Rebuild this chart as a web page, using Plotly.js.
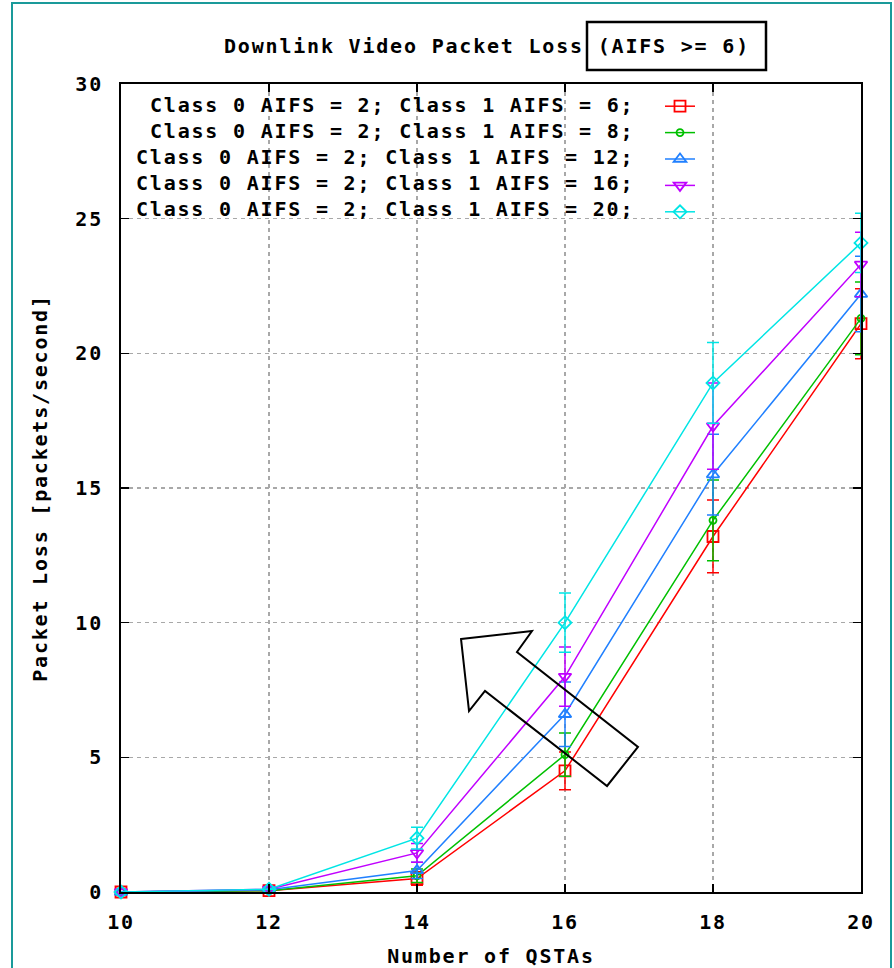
<!DOCTYPE html>
<html>
<head>
<meta charset="utf-8">
<script src="https://cdn.plot.ly/plotly-3.0.1.min.js"></script>
<style>
  html, body { margin: 0; padding: 0; background: #fff; }
  #chart { width: 894px; height: 968px; }
  svg text { letter-spacing: 1.8px; }
</style>
</head>
<body>
<div id="chart"></div>
<script>
// ---- data ----
const qstas = [10, 12, 14, 16, 18, 20];

const seriesNames = [
  "Class 0 AIFS = 2; Class 1 AIFS = 6;",
  "Class 0 AIFS = 2; Class 1 AIFS = 8;",
  "Class 0 AIFS = 2; Class 1 AIFS = 12;",
  "Class 0 AIFS = 2; Class 1 AIFS = 16;",
  "Class 0 AIFS = 2; Class 1 AIFS = 20;"
];

const lossAifs6  = [0, 0.05, 0.5, 4.5, 13.2, 21.1];
const lossAifs8  = [0, 0.05, 0.6, 5.1, 13.8, 21.3];
const lossAifs12 = [0, 0.08, 0.8, 6.6, 15.5, 22.2];
const lossAifs16 = [0, 0.1, 1.45, 8.0, 17.3, 23.3];
const lossAifs20 = [0, 0.1, 2.0, 10.0, 18.9, 24.1];

const errAifs6  = [0, 0, 0.25, 0.7, 1.35, 1.3];
const errAifs8  = [0, 0, 0.25, 0.8, 1.5, 1.35];
const errAifs12 = [0, 0, 0.3, 1.2, 1.5, 1.4];
const errAifs16 = [0, 0, 0.35, 1.1, 1.6, 1.2];
const errAifs20 = [0, 0, 0.4, 1.1, 1.5, 1.1];

const xTicks = [10, 12, 14, 16, 18, 20];
const yTicks = [0, 5, 10, 15, 20, 25, 30];

// ---- styles ----
const FONT = "DejaVu Sans Mono, Liberation Mono, monospace";
const colors = ["#ff0000", "#00c000", "#2080ff", "#c000ff", "#00e5e5"];
const symbols = ["square-open", "circle-open", "triangle-up-open", "triangle-down-open", "diamond-open"];
const msizes = [11, 7, 11, 11, 10];
const values = [lossAifs6, lossAifs8, lossAifs12, lossAifs16, lossAifs20];
const errors = [errAifs6, errAifs8, errAifs12, errAifs16, errAifs20];

const traces = values.map((v, i) => ({
  type: "scatter",
  mode: "lines+markers",
  x: qstas,
  y: v,
  name: "",
  hovertext: seriesNames[i],
  cliponaxis: false,
  line: { color: colors[i], width: 1.5 },
  marker: { symbol: symbols[i], size: msizes[i], color: colors[i], line: { color: colors[i], width: 1.8 } },
  error_y: { type: "data", array: errors[i], visible: true, color: colors[i], thickness: 1.5, width: 6 }
}));

// helpers: pixel -> paper (plot area 121..861 x, 84..892 y)
const PL = 121, PR = 861, PT = 84, PB = 892;
const px = p => (p - PL) / (PR - PL);
const py = p => (PB - p) / (PB - PT);

const legendRows = [105, 131, 157, 183, 209];
const annotations = seriesNames.map((s, i) => ({
  text: s,
  xref: "paper", yref: "paper",
  x: px(636), y: py(legendRows[i]),
  xanchor: "right", yanchor: "middle",
  showarrow: false,
  font: { family: FONT, size: 20, color: "#000", weight: "bold" }
}));

const arrowPts = [[461, 639], [532, 631], [517, 652], [638, 747], [607, 786], [485, 691], [469, 711]];
const arrowPath = "M " + arrowPts.map(p => px(p[0]).toFixed(4) + "," + py(p[1]).toFixed(4)).join(" L ") + " Z";

const shapes = [
  // outer teal frame
  { type: "rect", xref: "paper", yref: "paper", x0: px(12), x1: px(891), y0: py(985), y1: py(3),
    line: { color: "#1a9a9a", width: 2 }, fillcolor: "rgba(0,0,0,0)" },
  // box around "(AIFS >= 6)"
  { type: "rect", xref: "paper", yref: "paper", x0: px(587), x1: px(766), y0: py(70), y1: py(22),
    line: { color: "#000", width: 2.5 }, fillcolor: "rgba(0,0,0,0)" },
  // hollow arrow
  { type: "path", xref: "paper", yref: "paper", path: arrowPath,
    line: { color: "#000", width: 2 }, fillcolor: "rgba(0,0,0,0)" }
];

const axisCommon = {
  showline: true, mirror: "allticks", linecolor: "#000", linewidth: 2,
  ticks: "inside", ticklen: 8, tickwidth: 1.5, tickcolor: "#000",
  showgrid: true, gridcolor: "#a8a8a8", gridwidth: 1.5, griddash: "4px,4px",
  zeroline: false,
  tickfont: { family: FONT, size: 20, color: "#000", weight: "bold" }
};

const layout = {
  width: 894, height: 968,
  margin: { l: 121, r: 33, t: 84, b: 76, pad: 0 },
  paper_bgcolor: "#fff", plot_bgcolor: "#fff",
  font: { family: FONT, size: 20, color: "#000" },
  title: {
    text: "Downlink Video Packet Loss (AIFS >= 6)",
    font: { family: FONT, size: 20, color: "#000", weight: "bold" },
    x: px(487), xref: "paper", xanchor: "center",
    y: 1 - 46 / 968, yref: "container", yanchor: "middle"
  },
  xaxis: Object.assign({}, axisCommon, {
    range: [10, 20], tickmode: "array", tickvals: xTicks, ticktext: xTicks.map(String),
    ticklabelstandoff: 11,
    title: { text: "Number of QSTAs", font: { family: FONT, size: 20, color: "#000", weight: "bold" }, standoff: 18 }
  }),
  yaxis: Object.assign({}, axisCommon, {
    range: [0, 30], tickmode: "array", tickvals: yTicks, ticktext: yTicks.map(String),
    ticklabelstandoff: 12,
    title: { text: "Packet Loss [packets/second]", font: { family: FONT, size: 20, color: "#000", weight: "bold" }, standoff: 22 }
  }),
  showlegend: true,
  legend: {
    x: px(660), y: py(88), xanchor: "left", yanchor: "top",
    bgcolor: "rgba(0,0,0,0)", borderwidth: 0,
    font: { family: FONT, size: 18, color: "#000" },
    itemwidth: 30, tracegroupgap: 0
  },
  annotations: annotations,
  shapes: shapes
};

Plotly.newPlot("chart", traces, layout, { displayModeBar: false, staticPlot: true });
</script>
</body>
</html>
